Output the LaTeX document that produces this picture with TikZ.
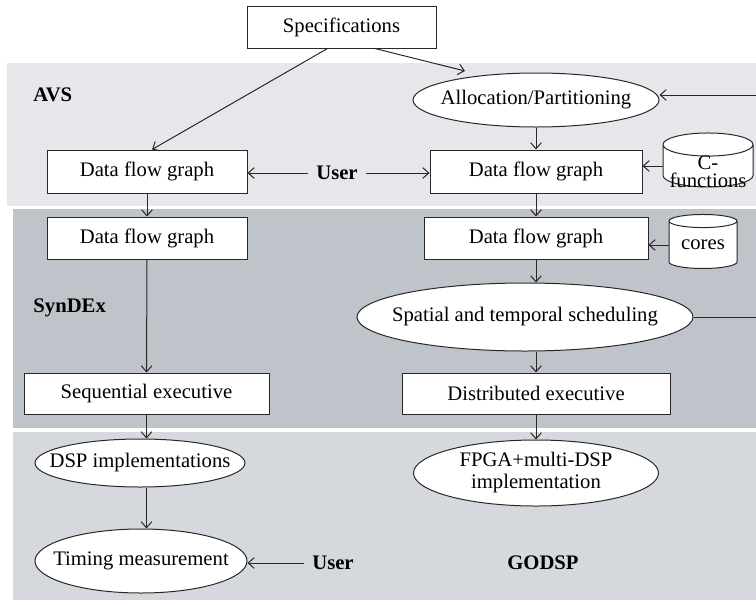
\documentclass[tikz,border=0pt]{standalone}
\usepackage{fontspec}
\setmainfont{Liberation Serif}
\usetikzlibrary{shapes.geometric,arrows.meta}

\definecolor{avsband}{RGB}{230,231,235}
\definecolor{synband}{RGB}{191,195,202}
\definecolor{godband}{RGB}{213,216,221}
\definecolor{ink}{RGB}{40,40,40}

\tikzset{every picture/.style={line width=0.75pt}}
\tikzset{
  every node/.style={font=\fontsize{15.5}{17}\selectfont, text=black},
  blk/.style={draw=ink, fill=white, inner sep=0pt},
  oval/.style={draw=ink, fill=white, ellipse, inner sep=0pt},
  store/.style={draw=ink, fill=white, cylinder, shape border rotate=90, aspect=0.3, inner sep=0pt},
  grouplab/.style={inner sep=0.75pt, font=\fontsize{15.5}{17}\selectfont\bfseries},
  arr/.style={draw=ink, -{Straight Barb[length=4.5pt,width=8pt]}},
}

\begin{document}
\begin{tikzpicture}[x=0.75pt,y=0.75pt,yscale=-1,xscale=1]
\clip (0,0) rectangle (756,604);

%Shape: Rectangle [AVS band]
\fill [avsband] (7,63) rectangle (756,206);
%Shape: Rectangle [SynDEx band]
\fill [synband] (13,209) rectangle (756,428);
%Shape: Rectangle [GODSP band]
\fill [godband] (13,432) rectangle (756,600);

% Text Node
\node [blk, minimum width=141.75pt, minimum height=31.5pt] (spec) at (341.5,27) {Specifications};

% AVS
\node [oval, minimum width=184.5pt, minimum height=40.5pt] (alloc) at (536,100) {\makebox[0pt]{Allocation/Partitioning}};
\node [blk, minimum width=150pt, minimum height=32.25pt] (dfgA1) at (147,171.5) {Data flow graph};
\node [blk, minimum width=159pt, minimum height=32.25pt] (dfgA2) at (536,171.5) {Data flow graph};
\node [grouplab, inner xsep=6pt] (userA) at (337,173) {User};
\node [store, minimum width=67.5pt, minimum height=40.5pt] (cfun) at (708,166) {\raisebox{-9.5pt}[0pt][0pt]{\begin{tabular}{@{}c@{}}C-\\[-3pt]functions\end{tabular}}};
\node [grouplab, anchor=west] (avs) at (32,95) {AVS};

% SynDEx
\node [blk, minimum width=150pt, minimum height=31.5pt] (dfgS1) at (147,238) {Data flow graph};
\node [blk, minimum width=168pt, minimum height=31.5pt] (dfgS2) at (536,238) {Data flow graph};
\node [store, minimum width=51pt, minimum height=40.5pt] (cores) at (703,245) {cores};
\node [oval, minimum width=252pt, minimum height=51pt] (sched) at (525,317) {\makebox[0pt]{Spatial and temporal scheduling}};
\node [blk, minimum width=183.75pt, minimum height=30.75pt] (seq) at (146.5,393.5) {Sequential executive};
\node [blk, minimum width=201pt, minimum height=30.75pt] (dist) at (536,393.5) {Distributed executive};
\node [grouplab, anchor=west] (syndex) at (32,308) {SynDEx};

% GODSP
\node [oval, minimum width=157.5pt, minimum height=36pt] (dsp) at (140,463) {\makebox[0pt]{DSP implementations}};
\node [oval, minimum width=183.75pt, minimum height=49.5pt] (fpga) at (536,473) {\makebox[0pt]{\begin{tabular}{@{}c@{}}FPGA+multi-DSP\\implementation\end{tabular}}};
\node [oval, minimum width=159pt, minimum height=48pt] (timing) at (141,561) {\makebox[0pt]{Timing measurement}};
\node [grouplab, inner xsep=6pt] (userG) at (333,563) {User};
\node [grouplab] (godsp) at (543,563) {GODSP};

% feedback corner, outside the frame
\coordinate (fbB) at (762,317);
\coordinate (fbT) at (762,95);

% Connectors
\draw [arr] ([xshift=-10.5pt]spec.south) -- ([xshift=3.75pt]dfgA1.north);
\draw [arr] ([xshift=25pt]spec.south) -- ([xshift=-53.25pt,yshift=-21.75pt]alloc.center);
\draw [arr] (alloc) -- (dfgA2);
\draw [arr] (userA.west) -- (userA.west -| dfgA1.east);
\draw [arr] (userA.east) -- (userA.east -| dfgA2.west);
\draw [arr] (cfun.180) -- (cfun.180 -| dfgA2.east);
\draw [arr] (dfgA1) -- (dfgS1);
\draw [arr] (dfgA2) -- (dfgS2);
\draw [arr] (cores.180) -- (cores.180 -| dfgS2.east);
\draw [arr] (dfgS1) -- (seq);
\draw [arr] (dfgS2.south) -- (dfgS2.south |- sched.north);
\draw [arr] (dist.north |- sched.south) -- (dist.north);
\draw [arr] (seq.south) -- (seq.south |- dsp.north);
\draw [arr] (dist) -- (fpga);
\draw [arr] (seq.south |- dsp.south) -- (seq.south |- timing.north);
\draw [arr] (userG.west) -- (userG.west -| timing.east);
\draw [arr] (sched.east) -- (fbB) -- (fbT) -- (fbT -| alloc.east);

\end{tikzpicture}
\end{document}
